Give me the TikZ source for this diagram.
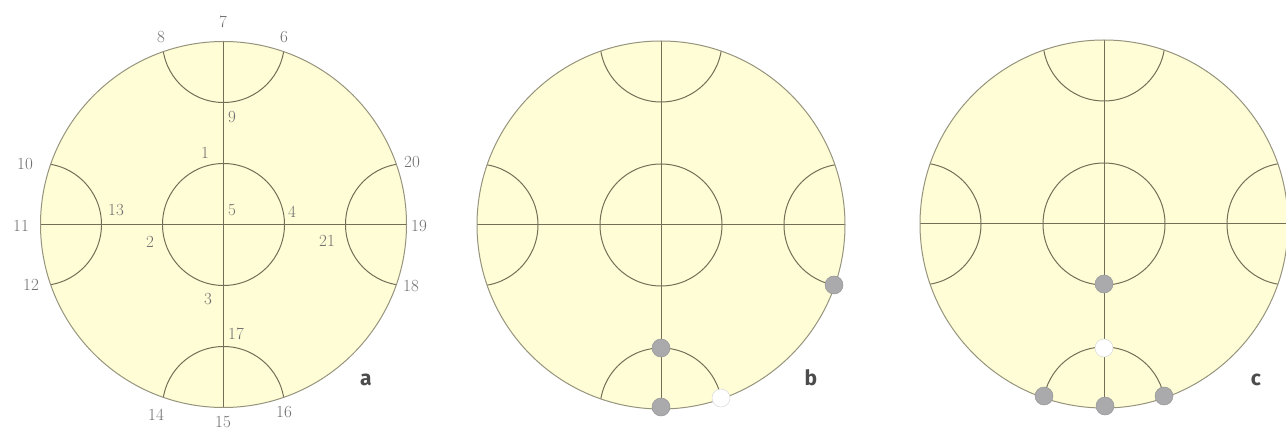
\documentclass[tikz,border=0pt]{standalone}
\usepackage{fontspec}
\newfontfamily\letterfont{Fira Sans}
\definecolor{fillyel}{RGB}{255,253,214}
\definecolor{outline}{RGB}{150,148,125}
\definecolor{inline}{RGB}{115,110,85}
\definecolor{numgray}{RGB}{110,110,110}
\definecolor{dotgray}{RGB}{170,170,172}
\definecolor{dotedge}{RGB}{150,150,152}
\tikzset{
  innerl/.style={draw=inline, line width=1pt},
  num/.style={text=numgray, font=\fontsize{17}{17}\selectfont, inner sep=0pt},
  panel/.style={text=black!70, font=\letterfont\bfseries\fontsize{21}{21}\selectfont, inner sep=0pt},
  gdot/.style={circle, fill=dotgray, draw=dotedge, line width=0.5pt, minimum size=18pt, inner sep=0pt},
  wdot/.style={circle, fill=white, draw=white!85!black, line width=0.5pt, minimum size=18pt, inner sep=0pt},
}
\newcommand{\chart}[3]{%
  \fill[fillyel] (#1,#2) circle (#3);
  \begin{scope}
    \clip (#1,#2) circle (#3);
    \draw[innerl] (#1,#2-#3) -- (#1,#2+#3);
    \draw[innerl] (#1-#3,#2) -- (#1+#3,#2);
    \draw[innerl] (#1,#2) circle (61);
    \draw[innerl] (#1,#2-#3) circle (61);
    \draw[innerl] (#1,#2+#3) circle (61);
    \draw[innerl] (#1-#3,#2) circle (61);
    \draw[innerl] (#1+#3,#2) circle (61);
  \end{scope}
  \draw[draw=outline, line width=1pt] (#1,#2) circle (#3);
}
\newcommand{\on}[1]{\oldstylenums{#1}}
\begin{document}
\begin{tikzpicture}[x=1pt,y=-1pt]
\useasboundingbox (0,0) rectangle (1286,430);
\clip (0,0) rectangle (1286,430);
\fill[white] (0,0) rectangle (1286,430);

% panel a
\chart{223.5}{224.5}{183}
% panel b
\chart{661}{225}{184}
% panel c
\chart{1104}{224}{184}

% labels of panel a
\node[num] (n7)  at (223,22)  {\on{7}};
\node[num] (n8)  at (161,37)  {\on{8}};
\node[num] (n6)  at (284,37)  {\on{6}};
\node[num] (n9)  at (232,117) {\on{9}};
\node[num] (n1)  at (205,153) {\on{1}};
\node[num] (n10) at (25,164)  {\on{10}};
\node[num] (n20) at (412,162) {\on{20}};
\node[num] (n13) at (116,210) {\on{13}};
\node[num] (n5)  at (232,210) {\on{5}};
\node[num] (n4)  at (292,212) {\on{4}};
\node[num] (n11) at (21,226)  {\on{11}};
\node[num] (n19) at (419,226) {\on{19}};
\node[num] (n2)  at (150,242) {\on{2}};
\node[num] (n21) at (327,241) {\on{21}};
\node[num] (n12) at (31,285)  {\on{12}};
\node[num] (n18) at (411,286) {\on{18}};
\node[num] (n3)  at (208,299) {\on{3}};
\node[num] (n17) at (236,334) {\on{17}};
\node[num] (n14) at (156,415) {\on{14}};
\node[num] (n15) at (223,422) {\on{15}};
\node[num] (n16) at (284,412) {\on{16}};

\node[panel] (la) at (366,380) {a};
\node[panel] (lb) at (811,378) {b};
\node[panel] (lc) at (1256,380) {c};

% dots of panel b
\node[gdot] (b18) at (834,285) {};
\node[gdot] (b17) at (661,348) {};
\node[gdot] (b15) at (661,407) {};
\node[wdot] (b16) at (721,398) {};

% dots of panel c
\node[gdot] (c3)  at (1104,284) {};
\node[wdot] (c17) at (1104,348) {};
\node[gdot] (c14) at (1044,396) {};
\node[gdot] (c15) at (1105,406) {};
\node[gdot] (c16) at (1164,396) {};
\end{tikzpicture}
\end{document}
